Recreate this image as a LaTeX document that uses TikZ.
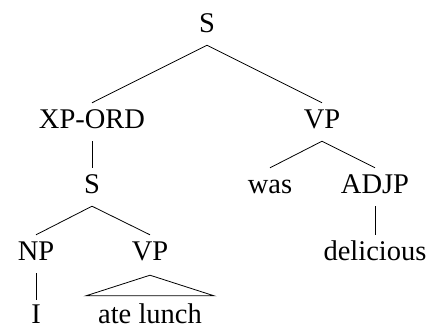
\documentclass[tikz,border=0pt]{standalone}
\usepackage{fontspec}
\setmainfont{Liberation Serif}
\usetikzlibrary{calc}
\begin{document}
\begin{tikzpicture}[x=1pt,y=-1pt,
  lab/.style={anchor=base,inner xsep=0pt,inner ysep=7pt,text height=18pt,text depth=6pt,font=\fontsize{28.5}{31}\selectfont},
  leaf/.style={lab,inner ysep=0pt,text height=23pt,text depth=0pt},
  edge/.style={draw,line width=0.8pt}]
\useasboundingbox (0,0) rectangle (430,327);
\node[lab] (s) at (207,32) {S};
\node[lab] (xp) at (92,128) {XP-ORD};
\node[lab] (vp) at (322,128) {VP};
\node[lab] (s2) at (92,193) {S};
\node[lab] (was) at (270,193) {was};
\node[lab] (adjp) at (375,193) {ADJP};
\node[lab] (np) at (36,260) {NP};
\node[lab] (vp2) at (150,260) {VP};
\node[lab] (del) at (375,260) {delicious};
\node[leaf] (i) at (36,323) {I};
\node[leaf] (al) at (150,323) {ate lunch};
\path[edge] (s.south) -- (xp.north);
\path[edge] (s.south) -- (vp.north);
\path[edge] (xp.south) -- (s2.north);
\path[edge] (vp.south) -- (was.north);
\path[edge] (vp.south) -- (adjp.north);
\path[edge] (adjp.south) -- (del.north);
\path[edge] (s2.south) -- (np.north);
\path[edge] (s2.south) -- (vp2.north);
\path[edge] (np.south) -- (i.north);
\path[edge] ($(vp2.south)+(0,2)$) -- ($(al.north west)+(-12,-4)$) -- ($(al.north east)+(12,-4)$) -- cycle;
\end{tikzpicture}
\end{document}
